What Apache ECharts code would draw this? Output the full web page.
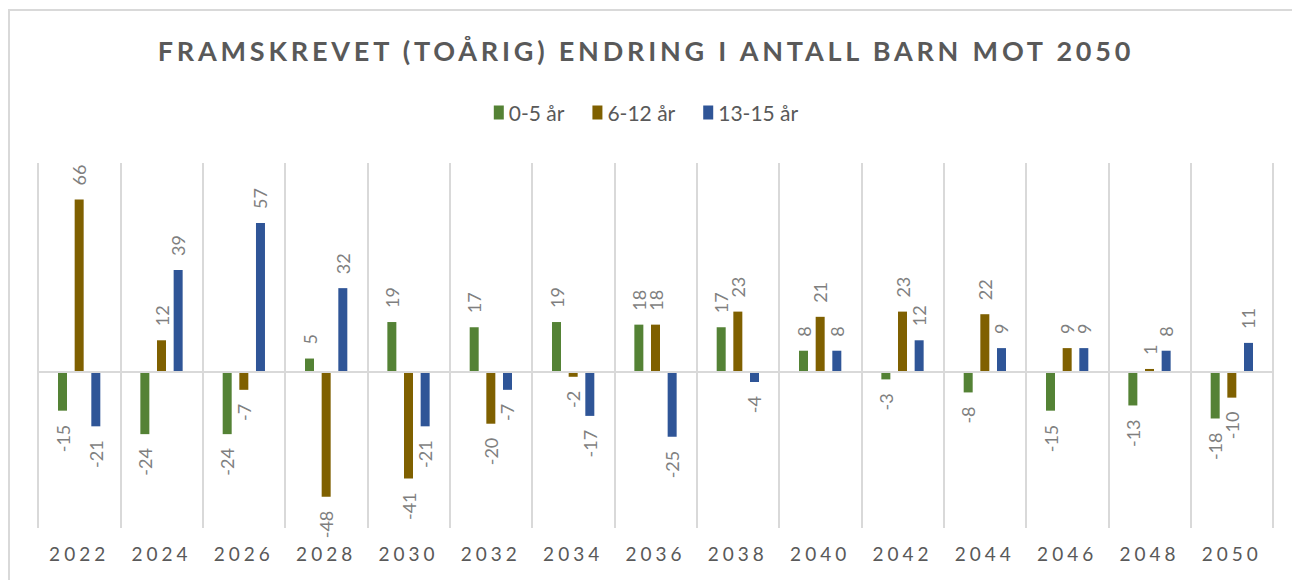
<!DOCTYPE html>
<html>
<head>
<meta charset="utf-8">
<script src="https://cdn.jsdelivr.net/npm/echarts@6/dist/echarts.min.js"></script>
<style>
html, body { margin: 0; padding: 0; background: #fff; }
#chart { width: 1292px; height: 580px; }
/* title and year labels are letter-spaced in the original */
#chart text[style*="bold"] { letter-spacing: 3.8px; }
#chart text[style*="19px"] { letter-spacing: 4px; }
</style>
</head>
<body>
<div id="chart"></div>
<script>
const years = ['2022', '2024', '2026', '2028', '2030', '2032', '2034', '2036', '2038', '2040', '2042', '2044', '2046', '2048', '2050'];
const age0to5 = [-15, -24, -24, 5, 19, 17, 19, 18, 17, 8, -3, -8, -15, -13, -18];
const age6to12 = [66, 12, -7, -48, -41, -20, -2, 18, 23, 21, 23, 22, 9, 1, -10];
const age13to15 = [-21, 39, 57, 32, -21, -7, -17, -25, -4, 8, 12, 9, 9, 8, 11];

const font = 'Lato, "Open Sans", sans-serif';

// label above positive bars, below negative ones, read bottom-to-top
function withLabels(arr) {
    return arr.map(v => ({
        value: v,
        label: {
            position: v < 0 ? 'bottom' : 'top',
            align: v < 0 ? 'right' : 'left'
        }
    }));
}

function makeSeries(name, arr, color) {
    return {
        name: name,
        type: 'bar',
        data: withLabels(arr),
        barWidth: 9,
        barGap: '85%',
        itemStyle: { color: color },
        label: {
            show: true,
            rotate: 90,
            verticalAlign: 'middle',
            distance: 14,
            color: '#7f7f7f',
            fontSize: 18,
            fontFamily: font
        }
    };
}

const chart = echarts.init(document.getElementById('chart'), null, { renderer: 'svg' });
const series = [
    makeSeries('0-5 år', age0to5, '#548235'),
    makeSeries('6-12 år', age6to12, '#7f6000'),
    makeSeries('13-15 år', age13to15, '#2f5597')
];
series[0].markLine = {
    silent: true,
    symbol: 'none',
    label: { show: false },
    lineStyle: { color: '#d9d9d9', width: 2, type: 'solid' },
    data: [{ yAxis: 0 }]
};

chart.setOption({
    backgroundColor: '#fff',
    animation: false,
    graphic: [{
        type: 'rect',
        shape: { x: 9, y: 10, width: 1400, height: 700 },
        style: { fill: 'none', stroke: '#d9d9d9', lineWidth: 2 },
        silent: true
    }],
    title: {
        text: 'FRAMSKREVET (TOÅRIG) ENDRING I ANTALL BARN MOT 2050',
        left: 'center',
        top: 32,
        textStyle: {
            color: '#595959',
            fontSize: 27,
            fontWeight: 'bold',
            fontFamily: font
        }
    },
    legend: {
        top: 97,
        left: 'center',
        itemWidth: 10,
        itemHeight: 14,
        itemGap: 28,
        icon: 'rect',
        textStyle: { color: '#595959', fontSize: 21, fontFamily: font }
    },
    grid: { left: 38, right: 19, top: 163, bottom: 52 },
    xAxis: {
        type: 'category',
        data: years,
        position: 'bottom',
        axisLine: { show: false, onZero: false },
        axisTick: { show: false },
        axisLabel: { color: '#595959', fontSize: 19, margin: 16, fontFamily: font },
        splitLine: { show: true, lineStyle: { color: '#d9d9d9', width: 2 } }
    },
    yAxis: {
        type: 'value',
        min: -60,
        max: 80,
        interval: 20,
        show: false
    },
    series: series
});
</script>
</body>
</html>
